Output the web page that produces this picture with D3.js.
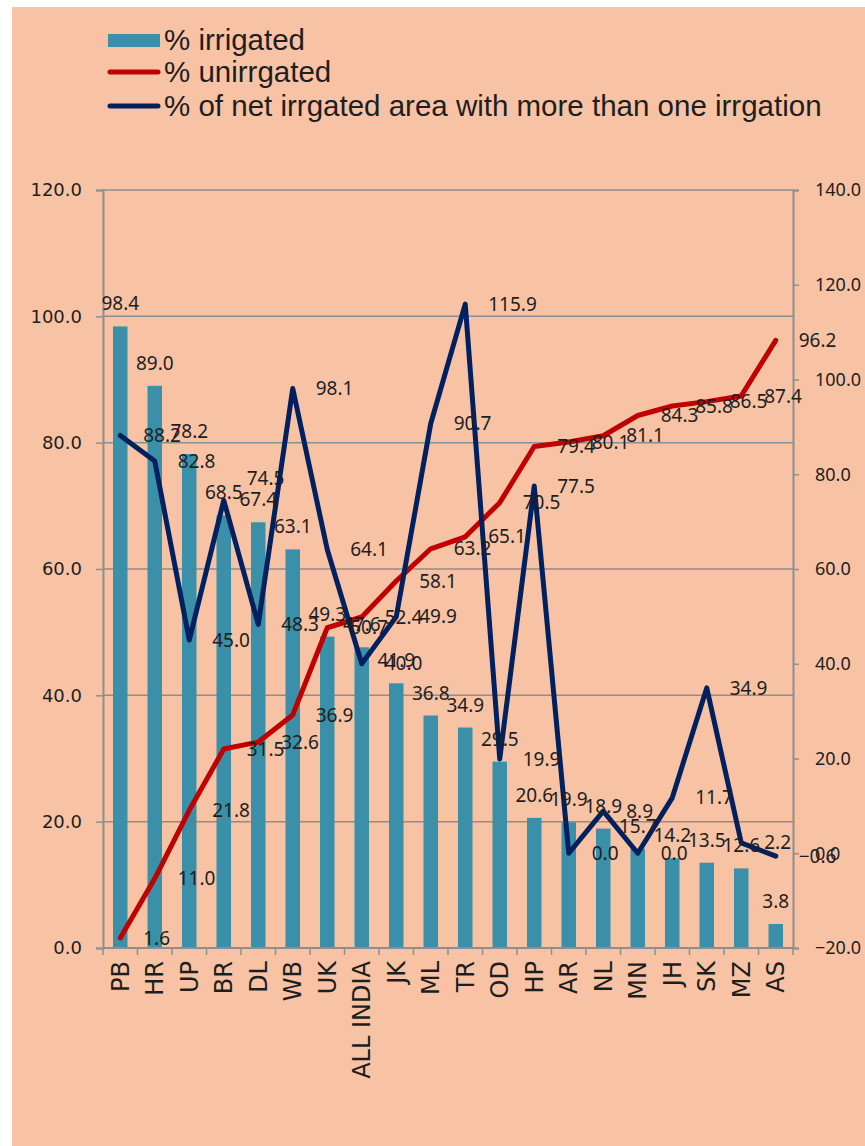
<!DOCTYPE html>
<html><head><meta charset="utf-8">
<script src="https://cdn.jsdelivr.net/npm/d3@7"></script>
<style>body{margin:0;background:#fff} svg{display:block}</style>
</head><body><svg id="c" width="865" height="1146"></svg>
<script>
const categories = ["PB","HR","UP","BR","DL","WB","UK","ALL INDIA","JK","ML","TR","OD","HP","AR","NL","MN","JH","SK","MZ","AS"];
const irrigated = [98.4,89.0,78.2,68.5,67.4,63.1,49.3,47.6,41.9,36.8,34.9,29.5,20.6,19.9,18.9,15.7,14.2,13.5,12.6,3.8];
const unirrigated = [1.6,11.0,21.8,31.5,32.6,36.9,50.7,52.4,58.1,63.2,65.1,70.5,79.4,80.1,81.1,84.3,85.8,86.5,87.4,96.2];
const moreThanOne = [88.2,82.8,45.0,74.5,48.3,98.1,64.1,40.0,49.9,90.7,115.9,19.9,77.5,0.0,8.9,0.0,11.7,34.9,2.2,-0.6];
const leftTicks = [0,20,40,60,80,100,120];
const rightTicks = [-20,0,20,40,60,80,100,120,140];
const seriesNames = ["% irrigated","% unirrgated","% of net irrgated area with more than one irrgation"];

const C = {bg:"#F8C3A4", bar:"#3990A8", red:"#C00000", blue:"#002060", grid:"#8E8E8E", text:"#1E1E1E"};
const svg = d3.select("#c");
const L = 103, R = 793, T = 190, B = 948;
const fmt = d3.format(".1f");
// manual label nudges (vertical, px) as in the reference
const blueLabelNudge = {"BR": -22};

svg.append("rect").attr("x",12).attr("y",7).attr("width",865-12).attr("height",1146-7).attr("fill",C.bg);

const x = d3.scaleBand().domain(categories).range([L,R]).paddingInner(0.58).paddingOuter(0.29);
const yL = d3.scaleLinear().domain([0,120]).range([B,T]);
const yR = d3.scaleLinear().domain([-20,140]).range([B,T]);
const cx = c => x(c) + x.bandwidth()/2;
const step = x.step();

// gridlines
svg.append("g").selectAll("line").data(leftTicks.filter(d=>d>0)).join("line")
  .attr("x1",L).attr("x2",R).attr("y1",d=>yL(d)).attr("y2",d=>yL(d))
  .attr("stroke",C.grid).attr("stroke-width",1.5);

// bars
svg.append("g").selectAll("rect").data(irrigated).join("rect")
  .attr("x",(d,i)=>x(categories[i])).attr("width",x.bandwidth())
  .attr("y",d=>yL(d)).attr("height",d=>yL(0)-yL(d)).attr("fill",C.bar);

// axes
const gl = svg.append("g").attr("transform",`translate(${L},0)`)
  .call(d3.axisLeft(yL).tickValues(leftTicks).tickFormat(fmt).tickSize(7).tickPadding(14));
const gr = svg.append("g").attr("transform",`translate(${R},0)`)
  .call(d3.axisRight(yR).tickValues(rightTicks).tickFormat(fmt).tickSize(6).tickPadding(16));
[gl,gr].forEach(g=>{
  g.select(".domain").attr("stroke",C.grid).attr("stroke-width",2);
  g.selectAll(".tick line").attr("stroke",C.grid).attr("stroke-width",1.5);
});
gl.selectAll(".tick text").attr("font-family","DejaVu Sans").attr("font-size",18).attr("fill",C.text);
gr.selectAll(".tick text").attr("font-family","Noto Sans").attr("font-size",18).attr("fill",C.text);

// x axis
const gx = svg.append("g");
gx.append("line").attr("x1",L).attr("x2",R).attr("y1",B).attr("y2",B).attr("stroke",C.grid).attr("stroke-width",2);
const edges = categories.map(c=>cx(c)-step/2).concat([cx(categories[categories.length-1])+step/2]);
gx.selectAll("line.t").data(edges).join("line").attr("class","t")
  .attr("x1",d=>d).attr("x2",d=>d).attr("y1",B).attr("y2",B+7).attr("stroke",C.grid).attr("stroke-width",1.5);
gx.selectAll("text").data(categories).join("text")
  .attr("transform",d=>`translate(${cx(d)},${B+13}) rotate(-90)`)
  .attr("text-anchor","end").attr("dy","0.36em")
  .attr("font-family","DejaVu Sans").attr("font-size",24).attr("fill",C.text).text(d=>d);

// lines
const lineL = d3.line().x((d,i)=>cx(categories[i])).y(d=>yL(d));
const lineR = d3.line().x((d,i)=>cx(categories[i])).y(d=>yR(d));
svg.append("path").datum(unirrigated).attr("d",lineL).attr("fill","none")
  .attr("stroke",C.red).attr("stroke-width",5).attr("stroke-linecap","round").attr("stroke-linejoin","round");
svg.append("path").datum(moreThanOne).attr("d",lineR).attr("fill","none")
  .attr("stroke",C.blue).attr("stroke-width",5).attr("stroke-linecap","round").attr("stroke-linejoin","round");

// data labels
const lab = svg.append("g").attr("font-family","Noto Sans").attr("font-size",19).attr("fill",C.text);
lab.selectAll("text.b").data(irrigated).join("text").attr("class","b")
  .attr("x",(d,i)=>cx(categories[i])).attr("y",d=>yL(d)-16)
  .attr("text-anchor","middle").text(d=>fmt(d));
lab.selectAll("text.r").data(unirrigated).join("text").attr("class","r")
  .attr("x",(d,i)=>cx(categories[i])+23).attr("y",d=>yL(d)).attr("dy","0.35em").text(d=>fmt(d));
lab.selectAll("text.n").data(moreThanOne).join("text").attr("class","n")
  .attr("x",(d,i)=>cx(categories[i])+23).attr("y",(d,i)=>yR(d)+(blueLabelNudge[categories[i]]||0))
  .attr("dy","0.35em").text(d=>fmt(d));

// legend
const lg = svg.append("g");
lg.append("rect").attr("x",108).attr("y",34).attr("width",52).attr("height",13).attr("fill",C.bar);
lg.append("line").attr("x1",110).attr("x2",158).attr("y1",72).attr("y2",72).attr("stroke",C.red).attr("stroke-width",5).attr("stroke-linecap","round");
lg.append("line").attr("x1",110).attr("x2",158).attr("y1",106).attr("y2",106).attr("stroke",C.blue).attr("stroke-width",5).attr("stroke-linecap","round");
const lt = lg.selectAll("text").data(seriesNames).join("text")
  .attr("x",164).attr("y",(d,i)=>[40,72,106][i]).attr("dy","0.35em")
  .attr("font-family","Liberation Sans").attr("font-size",24).attr("fill",C.text).text(d=>d);
const w = lt.nodes()[2].getComputedTextLength();
lt.attr("font-size", 24*658/w);
</script></body></html>
